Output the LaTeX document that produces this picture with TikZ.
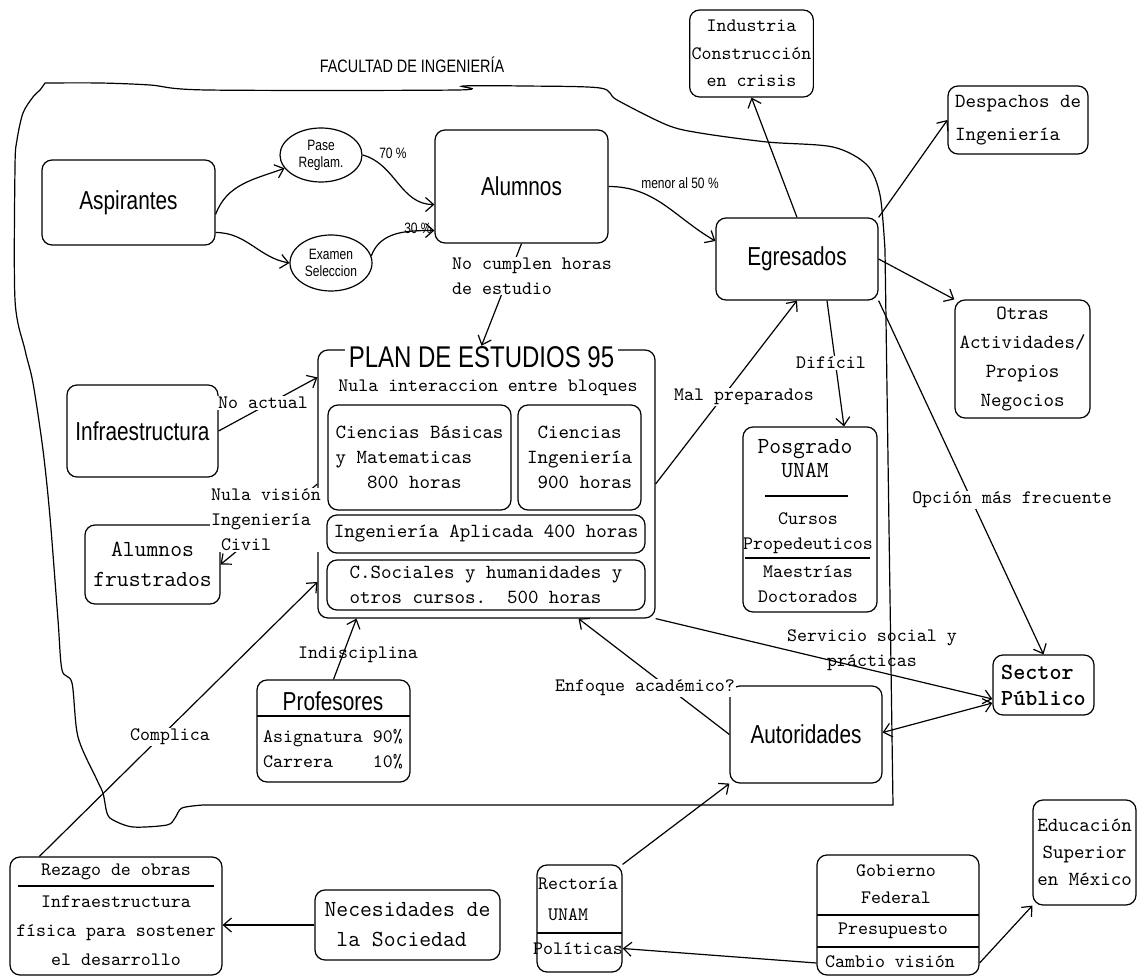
\documentclass[tikz,border=0pt]{standalone}
\usepackage{fontspec}
\setmainfont{Liberation Sans}[FakeStretch=0.8]
\usetikzlibrary{shapes.geometric,arrows.meta}

\begin{document}
\begin{tikzpicture}[x=0.5pt,y=-0.5pt,line width=0.6pt,
  >={Straight Barb[length=4pt,width=7pt]},
  caja/.style={draw,rounded corners=5pt,inner sep=2pt,align=center},
  elip/.style={draw,ellipse,inner sep=0pt,align=center,font=\fontsize{7.5}{8.5}\selectfont},
  grande/.style={font=\fontsize{13}{15}\selectfont},
  txt/.style={font=\ttfamily\fontsize{9.5}{12.5}\selectfont,align=center,inner sep=1pt},
  txtg/.style={font=\ttfamily\fontsize{11.5}{15}\selectfont,align=center,inner sep=1pt},
  etiq/.style={font=\ttfamily\fontsize{9.5}{12.5}\selectfont,fill=white,inner sep=0.5pt,align=left},
  pct/.style={font=\fontsize{7.5}{9}\selectfont,inner sep=1pt}]
  \useasboundingbox (0,0) rectangle (1142,978);

  % contorno de la facultad
  \draw plot[smooth,tension=0.5] coordinates {(45,83) (100,83) (150,85) (207,90) (457,90)
      (463,86) (523,86) (600,88) (617,100) (667,125) (700,133) (767,142) (833,147)
      (867,165) (880,195) (885,250)}
    -- (893,805) -- (203,805)
    -- plot[smooth,tension=0.5] coordinates {(203,805) (182,808) (175,818) (167,825)
      (133,827) (113,820) (107,813) (103,793) (97,780) (78,737) (72,683) (62,670)
      (58,620) (50,517) (43,450) (33,383) (25,350) (15,300) (15,167) (17,140)
      (23,113) (33,97) (40,90) (45,83)};
  \node[font=\fontsize{9}{11}\selectfont] (facultad) at (412,65) {FACULTAD DE INGENIERÍA};

  \node[caja,grande,minimum width=86.5pt,minimum height=42.5pt] (asp) at (128.5,202.5) {Aspirantes};
  \node[elip,minimum width=41pt,minimum height=27pt] (pase) at (321,155) {Pase\\Reglam.};
  \node[elip,minimum width=41pt,minimum height=28pt] (exa) at (331,263) {Examen\\Seleccion};
  \node[caja,grande,minimum width=86.5pt,minimum height=56.5pt] (alu) at (521.5,186.5) {Alumnos};
  \node[caja,grande,minimum width=81pt,minimum height=41pt] (egr) at (797,259) {Egresados};
  \node[caja,txt,font=\ttfamily\fontsize{9.5}{13.75}\selectfont,minimum width=56.5pt,minimum height=43.5pt] (ind) at (751.5,53.5) {Industria\\Construcción\\en crisis};
  \node[caja,txt,align=left,font=\ttfamily\fontsize{10}{16.5}\selectfont,minimum width=70pt,minimum height=34pt] (desp) at (1018,120) {Despachos de\\Ingeniería};
  \node[caja,txt,font=\ttfamily\fontsize{10}{14.5}\selectfont,minimum width=67.5pt,minimum height=59pt] (otras) at (1022.5,359) {Otras\\Actividades/\\Propios\\Negocios};

  % plan de estudios
  \node[caja,minimum width=168.5pt,minimum height=134pt] (plan) at (486.5,484) {};
  \node[font=\fontsize{15}{17}\selectfont,fill=white,inner xsep=2pt,inner ysep=0pt] (plantit) at (481.5,357) {PLAN DE ESTUDIOS 95};
  \node[txt] (nula) at (488,388) {Nula interaccion entre bloques};
  \node[caja,txt,align=left,font=\ttfamily\fontsize{10}{12.5}\selectfont,minimum width=91.5pt,minimum height=52.5pt] (cb) at (419.5,457.5) {Ciencias Básicas\\y Matematicas\\\ \ \ 800 horas};
  \node[caja,txt,font=\ttfamily\fontsize{10}{12.5}\selectfont,minimum width=61.5pt,minimum height=52.5pt] (ci) at (579.5,457.5) {Ciencias\\Ingeniería\\\ 900 horas};
  \node[caja,txt,font=\ttfamily\fontsize{10}{12.5}\selectfont,minimum width=159pt,minimum height=19pt] (ia) at (486,534) {Ingeniería Aplicada 400 horas};
  \node[caja,txt,align=left,font=\ttfamily\fontsize{10}{12.5}\selectfont,minimum width=159pt,minimum height=25pt] (cs) at (486,585) {C.Sociales y humanidades y\\otros cursos.\ \ 500 horas};

  \node[caja,grande,minimum width=75.5pt,minimum height=46pt] (infra) at (142.5,431) {Infraestructura};
  \node[caja,txtg,minimum width=67.5pt,minimum height=39.5pt] (frust) at (152.5,564.5) {Alumnos\\frustrados};

  \node[caja,minimum width=67pt,minimum height=92.5pt] (pos) at (810,519.5) {};
  \node[txtg,font=\ttfamily\fontsize{11.5}{12}\selectfont] (pos1) at (805,459) {Posgrado\\UNAM};
  \draw (765,496) -- (848,496);
  \node[txt] (pos2) at (808,533) {Cursos\\Propedeuticos};
  \draw (745,558) -- (870,558);
  \node[txt] (pos3) at (808,584.5) {Maestrías\\Doctorados};

  \node[caja,txt,align=left,font=\ttfamily\bfseries\fontsize{11.5}{13}\selectfont,minimum width=50.5pt,minimum height=30pt] (sec) at (1043.5,685) {Sector\\Público};
  \node[caja,grande,minimum width=76pt,minimum height=48.5pt] (aut) at (806,734.5) {Autoridades};

  \node[caja,minimum width=76.5pt,minimum height=51pt] (prof) at (333.5,731) {};
  \node[grande] (prof1) at (333,701) {Profesores};
  \draw (257,716) -- (410,716);
  \node[txt,align=left] (prof2) at (333,749) {Asignatura 90\%\\Carrera\hphantom{xxx} 10\%};

  \node[caja,minimum width=106pt,minimum height=59pt] (rez) at (116,916) {};
  \node[txt] (rez1) at (116,872) {Rezago de obras};
  \draw (18,886) -- (214,886);
  \node[txt,font=\ttfamily\fontsize{9.5}{14.5}\selectfont] (rez2) at (116,931) {Infraestructura\\física para sostener\\el desarrollo};
  \node[caja,txtg,align=left,minimum width=92.5pt,minimum height=35pt] (nec) at (407.5,925) {Necesidades de\\\ la Sociedad};

  \node[caja,minimum width=42.5pt,minimum height=53.5pt] (rect) at (579.5,918.5) {};
  \node[txt,align=left,font=\ttfamily\fontsize{9.5}{15.5}\selectfont] (rect1) at (578,899) {Rectoría\\\ UNAM};
  \draw (537,933) -- (622,933);
  \node[txt] (rect2) at (578,949) {Políticas};

  \node[caja,minimum width=81pt,minimum height=60pt] (gob) at (898,915) {};
  \node[txt,font=\ttfamily\fontsize{9.5}{13.5}\selectfont] (gob1) at (896,884) {Gobierno\\Federal};
  \draw (817,915) -- (979,915);
  \node[txt] (gob2) at (893,931) {Presupuesto};
  \draw (817,947) -- (979,947);
  \node[txt] (gob3) at (890,962) {Cambio visión};
  \node[caja,txt,font=\ttfamily\fontsize{10}{13.5}\selectfont,minimum width=51.5pt,minimum height=52.5pt] (edu) at (1084.5,852.5) {Educación\\Superior\\en México};

  % conectores
  \draw[->] ([yshift=-6pt]asp.east) to[out=70,in=200] (pase.200);
  \draw[->] ([yshift=-15pt]asp.east) to[out=0,in=170] (exa.west);
  \draw[->] (pase.east) to[out=-15,in=180] ([yshift=-9pt]alu.west);
  \draw[->] (exa.10) to[out=70,in=180] ([yshift=-22pt]alu.west);
  \draw[->] (alu.east) to[out=0,in=150] ([yshift=9pt]egr.west);
  \draw[->] (egr.north) -- (ind.south);
  \draw[->] (egr.north east) -- (desp.west);
  \draw[->] (egr.east) -- (otras.north west);
  \draw[->] ([xshift=15pt]egr.south) -- ([xshift=17pt]pos.north);
  \draw[->] (plan.east) -- (egr.south);
  \draw[->] (egr.south east) -- (sec.north);
  \draw[->] (alu.south) -- (plantit.north);
  \draw[->] (infra.east) -- ([yshift=-14pt]plan.north west);
  \draw[->] (plan.west) -- (frust.east);
  \draw[->] (prof.north) -- ([xshift=-65pt]plan.south);
  \draw[->] (aut.west) -- ([xshift=46pt]plan.south);
  \draw[->] (plan.south east) -- ([yshift=-7pt]sec.west);
  \draw[<->] ([yshift=-9pt]sec.west) -- ([yshift=1pt]aut.east);
  \draw[->] (rect.north east) -- (aut.south west);
  \draw[->] ([yshift=-24pt]gob.west) -- ([yshift=-15pt]rect.east);
  \draw[->] ([yshift=-24pt]gob.east) -- (edu.south west);
  \draw[->] (nec.west) -- (nec.west -| rez.east);
  \draw[->] ([xshift=15pt]rez.north west) -- ([yshift=-49pt]plan.west);

  % etiquetas
  \node[pct] (p70) at (393,153) {70 \%};
  \node[pct] (p30) at (418,228) {30 \%};
  \node[pct] (p50) at (680,183) {menor al 50 \%};
  \node[etiq] (lhoras) at (532,276) {No cumplen horas\\de estudio};
  \node[etiq] (lactual) at (263,403) {No actual};
  \node[etiq] (lnula) at (266,520) {Nula visión\\Ingeniería\\\ Civil};
  \node[etiq] (lmal) at (744,397) {Mal preparados};
  \node[etiq] (ldificil) at (831,363) {Difícil};
  \node[etiq] (lopcion) at (1012,500) {Opción más frecuente};
  \node[etiq,fill=none,align=center] (lserv) at (872,650) {Servicio social y\\prácticas};
  \node[etiq] (lenfoque) at (645,688) {Enfoque académico?};
  \node[etiq,fill=none] (lindis) at (358,655) {Indisciplina};
  \node[etiq] (lcomplica) at (170,737) {Complica};
\end{tikzpicture}
\end{document}
